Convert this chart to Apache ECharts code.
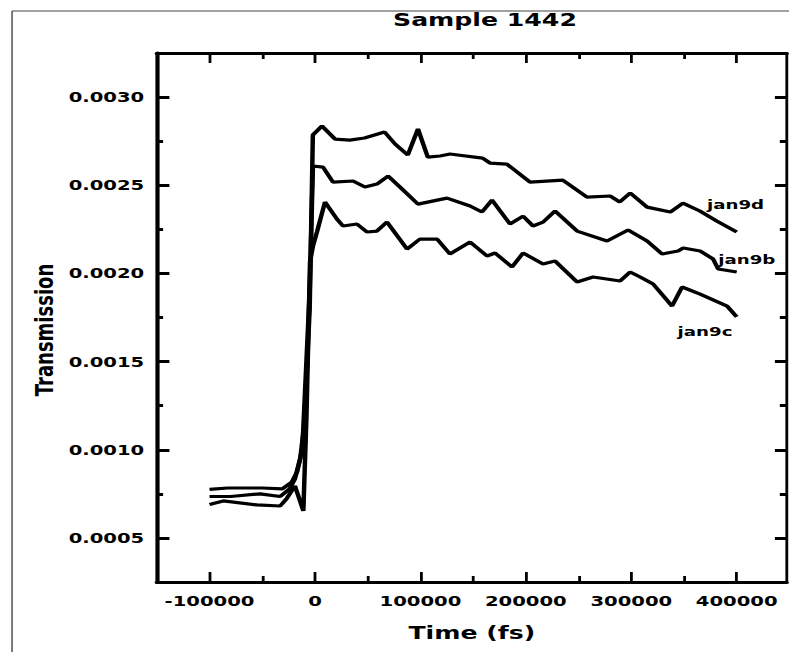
<!DOCTYPE html>
<html><head><meta charset="utf-8">
<script src="https://cdn.jsdelivr.net/npm/echarts@6/dist/echarts.min.js"></script>
<style>
html,body{margin:0;padding:0;background:#fff;overflow:hidden;}
#wrap{width:789px;height:652px;overflow:hidden;position:relative;background:#fff;}
#chart{width:564px;height:652px;transform:scaleX(1.4);transform-origin:0 0;}
</style></head><body><div id="wrap"><div id="chart"></div></div>
<script>
// ---- data ----
const titleText = 'Sample 1442';
const xTitle = 'Time (fs)';
const yTitle = 'Transmission';
const seriesNames = ['jan9d', 'jan9b', 'jan9c'];

const xMajor = [-100000, 0, 100000, 200000, 300000, 400000];
const xMinor = [-50000, 50000, 150000, 250000, 350000];
const yMajor = [0.0005, 0.0010, 0.0015, 0.0020, 0.0025, 0.0030];
const yMinor = [0.00075, 0.00125, 0.00175, 0.00225, 0.00275];
const X_MIN = -150000, X_MAX = 447500;
const Y_MIN = 0.00025, Y_MAX = 0.00325;

const jan9dTime = [-100000, -83000, -50000, -31000, -22000, -17000, -14000, -10000, -5000, -2000, 6600, 19000, 33000, 47000, 66000, 76000, 88000, 97700, 107000, 118600, 128000, 159000, 166000, 182000, 204000, 235000, 258000, 280000, 289000, 299000, 315000, 337000, 349000, 365000, 381000, 400000];
const jan9dValue = [0.000775, 0.000783, 0.000783, 0.000778, 0.000817, 0.000874, 0.000948, 0.00115, 0.0018, 0.002785, 0.002836, 0.002762, 0.002756, 0.002768, 0.002802, 0.002734, 0.002671, 0.002819, 0.002660, 0.002666, 0.002677, 0.002654, 0.002626, 0.002620, 0.002518, 0.002529, 0.002433, 0.002439, 0.002405, 0.002456, 0.002376, 0.002348, 0.002399, 0.002354, 0.002297, 0.002235];

const jan9bTime = [-100000, -80000, -52000, -33000, -24000, -19000, -12000, -5000, -1900, 7600, 17100, 36100, 47400, 58800, 69300, 80600, 97700, 125200, 147100, 158400, 167900, 185000, 197400, 206800, 216300, 227700, 248600, 277000, 297000, 315000, 329200, 344400, 349200, 365300, 377600, 382400, 400000];
const jan9bValue = [0.000735, 0.000735, 0.000750, 0.000735, 0.000778, 0.000834, 0.0010, 0.0019, 0.002609, 0.002603, 0.002518, 0.002524, 0.002490, 0.002507, 0.002552, 0.002490, 0.002393, 0.002427, 0.002382, 0.002348, 0.002416, 0.002280, 0.002325, 0.002269, 0.002291, 0.002354, 0.002240, 0.002184, 0.002246, 0.002184, 0.002110, 0.002127, 0.002144, 0.002127, 0.002082, 0.002025, 0.002008];

const jan9cTime = [-100000, -87000, -55000, -33000, -27000, -19000, -11000, -8000, -4700, -1900, 1900, 9500, 20900, 26600, 39800, 49300, 58800, 68300, 87300, 99600, 115800, 128000, 147100, 163200, 170800, 186900, 197400, 216300, 227700, 248600, 263800, 289400, 298900, 308400, 320700, 338700, 348200, 365300, 390900, 400000];
const jan9cValue = [0.000690, 0.000710, 0.000687, 0.000681, 0.000721, 0.000795, 0.000653, 0.0012, 0.002065, 0.002155, 0.002235, 0.002405, 0.002308, 0.002269, 0.002280, 0.002235, 0.002240, 0.002291, 0.002138, 0.002195, 0.002195, 0.002110, 0.002178, 0.002099, 0.002116, 0.002036, 0.002116, 0.002053, 0.002070, 0.001951, 0.001980, 0.001957, 0.002008, 0.001980, 0.001940, 0.001815, 0.001923, 0.001883, 0.001815, 0.001753];

// ---- chart ----
const FONT = 'DejaVu Sans';
const pair = (t, v) => t.map((x, i) => [x, v[i]]);
const chart = echarts.init(document.getElementById('chart'), null, {renderer: 'svg'});

const baseX = (pos, major, showLine, showLabel) => ({
  type: 'value', gridIndex: 0, position: pos, min: X_MIN, max: X_MAX,
  axisLine: {show: showLine, onZero: false, lineStyle: {color: '#000', width: 3}},
  axisTick: {show: true, inside: true, length: major ? 10 : 6, customValues: major ? xMajor : xMinor,
    lineStyle: {color: '#000', width: 2}},
  axisLabel: {show: showLabel, customValues: xMajor, formatter: v => String(v),
    fontFamily: FONT, fontWeight: 'bold', fontSize: 14, color: '#000', margin: 12},
  splitLine: {show: false}
});
const baseY = (pos, major, showLine, showLabel) => ({
  type: 'value', gridIndex: 0, position: pos, min: Y_MIN, max: Y_MAX,
  axisLine: {show: showLine, onZero: false, lineStyle: {color: '#000', width: pos === 'left' ? 3 : 2}},
  axisTick: {show: true, inside: true,
    length: major ? (pos === 'left' ? 9 : 8.5) : (pos === 'left' ? 4.5 : 5),
    customValues: major ? yMajor : yMinor, lineStyle: {color: '#000', width: 3}},
  axisLabel: {show: showLabel, customValues: yMajor, formatter: v => v.toFixed(4),
    fontFamily: FONT, fontWeight: 'bold', fontSize: 14, color: '#000', margin: 9},
  splitLine: {show: false}
});

const textStyle = (txt, size) => ({text: txt, fontFamily: FONT, fontWeight: 'bold', fontSize: size, fill: '#000'});

chart.setOption({
  animation: false,
  backgroundColor: '#fff',
  grid: {left: 112, top: 53, width: 450, height: 529, containLabel: false},
  xAxis: [
    baseX('bottom', true, true, true),
    baseX('bottom', false, false, false),
    baseX('top', true, true, false),
    baseX('top', false, false, false)
  ],
  yAxis: [
    baseY('left', true, true, true),
    baseY('left', false, false, false),
    baseY('right', true, true, false),
    baseY('right', false, false, false)
  ],
  series: [
    {name: seriesNames[0], type: 'line', data: pair(jan9dTime, jan9dValue)},
    {name: seriesNames[1], type: 'line', data: pair(jan9bTime, jan9bValue)},
    {name: seriesNames[2], type: 'line', data: pair(jan9cTime, jan9cValue)}
  ].map(s => Object.assign(s, {xAxisIndex: 0, yAxisIndex: 0, showSymbol: false, symbol: 'none',
    lineStyle: {color: '#000', width: 3.2}, smooth: false})),
  graphic: [
    {type: 'line', shape: {x1: 8.6, y1: 11, x2: 564, y2: 11}, style: {stroke: '#444', lineWidth: 1}},
    {type: 'line', shape: {x1: 8.6, y1: 11, x2: 8.6, y2: 652}, style: {stroke: '#444', lineWidth: 1}},
    {type: 'text', x: 346.4, y: 20, style: Object.assign(textStyle(titleText, 18), {textAlign: 'center', textVerticalAlign: 'middle'})},
    {type: 'text', x: 337, y: 633, style: Object.assign(textStyle(xTitle, 18), {textAlign: 'center', textVerticalAlign: 'middle'})},
    {type: 'text', x: 32, y: 330, rotation: Math.PI / 2, style: Object.assign(textStyle(yTitle, 18), {textAlign: 'center', textVerticalAlign: 'middle'})},
    {type: 'text', x: 505, y: 204, style: Object.assign(textStyle(seriesNames[0], 13), {textAlign: 'left', textVerticalAlign: 'middle'})},
    {type: 'text', x: 513, y: 259, style: Object.assign(textStyle(seriesNames[1], 13), {textAlign: 'left', textVerticalAlign: 'middle'})},
    {type: 'text', x: 484, y: 331, style: Object.assign(textStyle(seriesNames[2], 13), {textAlign: 'left', textVerticalAlign: 'middle'})}
  ]
});
</script></body></html>
